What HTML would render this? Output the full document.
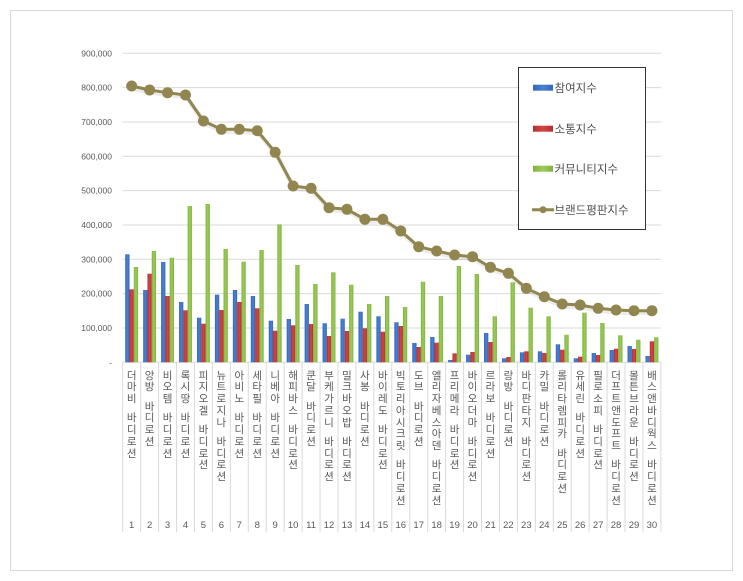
<!DOCTYPE html>
<html><head><meta charset="utf-8">
<style>
html,body{margin:0;padding:0;background:#fff;}
body{width:743px;height:581px;position:relative;overflow:hidden;font-family:"Liberation Sans","Noto Sans CJK KR",sans-serif;}
svg{position:absolute;left:0;top:0;}
.lb{position:absolute;top:370.6px;width:18px;text-align:center;font-size:10.5px;line-height:11.75px;color:#595959;font-family:"Liberation Sans","Noto Sans CJK KR",sans-serif;}
.lb b{display:block;height:7.5px;}
</style></head><body>
<svg width="743" height="581" viewBox="0 0 743 581" xmlns="http://www.w3.org/2000/svg">
<rect x="10.5" y="10.5" width="722" height="560" fill="#fff" stroke="#d9d9d9" stroke-width="1"/>
<g stroke="#d9d9d9" stroke-width="1">
<line x1="122.7" y1="53.3" x2="660.9" y2="53.3"/>
<line x1="122.7" y1="87.6" x2="660.9" y2="87.6"/>
<line x1="122.7" y1="122" x2="660.9" y2="122"/>
<line x1="122.7" y1="156.3" x2="660.9" y2="156.3"/>
<line x1="122.7" y1="190.6" x2="660.9" y2="190.6"/>
<line x1="122.7" y1="225" x2="660.9" y2="225"/>
<line x1="122.7" y1="259.3" x2="660.9" y2="259.3"/>
<line x1="122.7" y1="293.6" x2="660.9" y2="293.6"/>
<line x1="122.7" y1="328" x2="660.9" y2="328"/>
<line x1="122.7" y1="362.3" x2="660.9" y2="362.3"/>
</g>
<g stroke="#d9d9d9" stroke-width="1">
<line x1="122.7" y1="362" x2="122.7" y2="532"/>
<line x1="140.64" y1="362" x2="140.64" y2="532"/>
<line x1="158.58" y1="362" x2="158.58" y2="532"/>
<line x1="176.52" y1="362" x2="176.52" y2="532"/>
<line x1="194.46" y1="362" x2="194.46" y2="532"/>
<line x1="212.4" y1="362" x2="212.4" y2="532"/>
<line x1="230.34" y1="362" x2="230.34" y2="532"/>
<line x1="248.28" y1="362" x2="248.28" y2="532"/>
<line x1="266.22" y1="362" x2="266.22" y2="532"/>
<line x1="284.16" y1="362" x2="284.16" y2="532"/>
<line x1="302.1" y1="362" x2="302.1" y2="532"/>
<line x1="320.04" y1="362" x2="320.04" y2="532"/>
<line x1="337.98" y1="362" x2="337.98" y2="532"/>
<line x1="355.92" y1="362" x2="355.92" y2="532"/>
<line x1="373.86" y1="362" x2="373.86" y2="532"/>
<line x1="391.8" y1="362" x2="391.8" y2="532"/>
<line x1="409.74" y1="362" x2="409.74" y2="532"/>
<line x1="427.68" y1="362" x2="427.68" y2="532"/>
<line x1="445.62" y1="362" x2="445.62" y2="532"/>
<line x1="463.56" y1="362" x2="463.56" y2="532"/>
<line x1="481.5" y1="362" x2="481.5" y2="532"/>
<line x1="499.44" y1="362" x2="499.44" y2="532"/>
<line x1="517.38" y1="362" x2="517.38" y2="532"/>
<line x1="535.32" y1="362" x2="535.32" y2="532"/>
<line x1="553.26" y1="362" x2="553.26" y2="532"/>
<line x1="571.2" y1="362" x2="571.2" y2="532"/>
<line x1="589.14" y1="362" x2="589.14" y2="532"/>
<line x1="607.08" y1="362" x2="607.08" y2="532"/>
<line x1="625.02" y1="362" x2="625.02" y2="532"/>
<line x1="642.96" y1="362" x2="642.96" y2="532"/>
<line x1="660.9" y1="362" x2="660.9" y2="532"/>
</g>
<g font-family="Liberation Sans, sans-serif" font-size="8.5" fill="#595959" text-anchor="end">
<text x="112" y="56.3">900,000</text>
<text x="112" y="90.6">800,000</text>
<text x="112" y="125">700,000</text>
<text x="112" y="159.3">600,000</text>
<text x="112" y="193.6">500,000</text>
<text x="112" y="228">400,000</text>
<text x="112" y="262.3">300,000</text>
<text x="112" y="296.6">200,000</text>
<text x="112" y="331">100,000</text>
<text x="112" y="365.3">-</text>
</g>
<defs>
<linearGradient id="gb" x1="0" x2="1" y1="0" y2="0"><stop offset="0" stop-color="#3467b8"/><stop offset="0.5" stop-color="#4a80d2"/><stop offset="1" stop-color="#3467b8"/></linearGradient>
<linearGradient id="gr" x1="0" x2="1" y1="0" y2="0"><stop offset="0" stop-color="#b52e2e"/><stop offset="0.5" stop-color="#d24646"/><stop offset="1" stop-color="#b52e2e"/></linearGradient>
<linearGradient id="gg" x1="0" x2="1" y1="0" y2="0"><stop offset="0" stop-color="#7fb23c"/><stop offset="0.5" stop-color="#9ccb5a"/><stop offset="1" stop-color="#7fb23c"/></linearGradient>
</defs>
<g id="bars">
<g transform="translate(122.7,0)"><rect x="2.52" y="254.3" width="4.3" height="108" fill="url(#gb)"/><rect x="6.82" y="289.3" width="4.3" height="73" fill="url(#gr)"/><rect x="11.12" y="267" width="4.3" height="95.3" fill="url(#gg)"/></g>
<g transform="translate(140.64,0)"><rect x="2.52" y="290" width="4.3" height="72.3" fill="url(#gb)"/><rect x="6.82" y="273.7" width="4.3" height="88.6" fill="url(#gr)"/><rect x="11.12" y="251" width="4.3" height="111.3" fill="url(#gg)"/></g>
<g transform="translate(158.58,0)"><rect x="2.52" y="262" width="4.3" height="100.3" fill="url(#gb)"/><rect x="6.82" y="296" width="4.3" height="66.3" fill="url(#gr)"/><rect x="11.12" y="257.7" width="4.3" height="104.6" fill="url(#gg)"/></g>
<g transform="translate(176.52,0)"><rect x="2.52" y="302" width="4.3" height="60.3" fill="url(#gb)"/><rect x="6.82" y="310.3" width="4.3" height="52" fill="url(#gr)"/><rect x="11.12" y="206" width="4.3" height="156.3" fill="url(#gg)"/></g>
<g transform="translate(194.46,0)"><rect x="2.52" y="317.7" width="4.3" height="44.6" fill="url(#gb)"/><rect x="6.82" y="323.7" width="4.3" height="38.6" fill="url(#gr)"/><rect x="11.12" y="204" width="4.3" height="158.3" fill="url(#gg)"/></g>
<g transform="translate(212.4,0)"><rect x="2.52" y="294.7" width="4.3" height="67.6" fill="url(#gb)"/><rect x="6.82" y="310" width="4.3" height="52.3" fill="url(#gr)"/><rect x="11.12" y="249" width="4.3" height="113.3" fill="url(#gg)"/></g>
<g transform="translate(230.34,0)"><rect x="2.52" y="290" width="4.3" height="72.3" fill="url(#gb)"/><rect x="6.82" y="302" width="4.3" height="60.3" fill="url(#gr)"/><rect x="11.12" y="261.7" width="4.3" height="100.6" fill="url(#gg)"/></g>
<g transform="translate(248.28,0)"><rect x="2.52" y="296" width="4.3" height="66.3" fill="url(#gb)"/><rect x="6.82" y="308.3" width="4.3" height="54" fill="url(#gr)"/><rect x="11.12" y="250" width="4.3" height="112.3" fill="url(#gg)"/></g>
<g transform="translate(266.22,0)"><rect x="2.52" y="320.7" width="4.3" height="41.6" fill="url(#gb)"/><rect x="6.82" y="330.7" width="4.3" height="31.6" fill="url(#gr)"/><rect x="11.12" y="224.3" width="4.3" height="138" fill="url(#gg)"/></g>
<g transform="translate(284.16,0)"><rect x="2.52" y="319" width="4.3" height="43.3" fill="url(#gb)"/><rect x="6.82" y="325.3" width="4.3" height="37" fill="url(#gr)"/><rect x="11.12" y="265" width="4.3" height="97.3" fill="url(#gg)"/></g>
<g transform="translate(302.1,0)"><rect x="2.52" y="304" width="4.3" height="58.3" fill="url(#gb)"/><rect x="6.82" y="324" width="4.3" height="38.3" fill="url(#gr)"/><rect x="11.12" y="284" width="4.3" height="78.3" fill="url(#gg)"/></g>
<g transform="translate(320.04,0)"><rect x="2.52" y="323.3" width="4.3" height="39" fill="url(#gb)"/><rect x="6.82" y="336" width="4.3" height="26.3" fill="url(#gr)"/><rect x="11.12" y="272.3" width="4.3" height="90" fill="url(#gg)"/></g>
<g transform="translate(337.98,0)"><rect x="2.52" y="318.7" width="4.3" height="43.6" fill="url(#gb)"/><rect x="6.82" y="331" width="4.3" height="31.3" fill="url(#gr)"/><rect x="11.12" y="284.7" width="4.3" height="77.6" fill="url(#gg)"/></g>
<g transform="translate(355.92,0)"><rect x="2.52" y="311.7" width="4.3" height="50.6" fill="url(#gb)"/><rect x="6.82" y="328.3" width="4.3" height="34" fill="url(#gr)"/><rect x="11.12" y="304" width="4.3" height="58.3" fill="url(#gg)"/></g>
<g transform="translate(373.86,0)"><rect x="2.52" y="316.3" width="4.3" height="46" fill="url(#gb)"/><rect x="6.82" y="331.7" width="4.3" height="30.6" fill="url(#gr)"/><rect x="11.12" y="296" width="4.3" height="66.3" fill="url(#gg)"/></g>
<g transform="translate(391.8,0)"><rect x="2.52" y="322.3" width="4.3" height="40" fill="url(#gb)"/><rect x="6.82" y="326" width="4.3" height="36.3" fill="url(#gr)"/><rect x="11.12" y="307" width="4.3" height="55.3" fill="url(#gg)"/></g>
<g transform="translate(409.74,0)"><rect x="2.52" y="343" width="4.3" height="19.3" fill="url(#gb)"/><rect x="6.82" y="347" width="4.3" height="15.3" fill="url(#gr)"/><rect x="11.12" y="281.7" width="4.3" height="80.6" fill="url(#gg)"/></g>
<g transform="translate(427.68,0)"><rect x="2.52" y="337" width="4.3" height="25.3" fill="url(#gb)"/><rect x="6.82" y="342.7" width="4.3" height="19.6" fill="url(#gr)"/><rect x="11.12" y="296" width="4.3" height="66.3" fill="url(#gg)"/></g>
<g transform="translate(445.62,0)"><rect x="2.52" y="360" width="4.3" height="2.3" fill="url(#gb)"/><rect x="6.82" y="353.3" width="4.3" height="9" fill="url(#gr)"/><rect x="11.12" y="266" width="4.3" height="96.3" fill="url(#gg)"/></g>
<g transform="translate(463.56,0)"><rect x="2.52" y="354.7" width="4.3" height="7.6" fill="url(#gb)"/><rect x="6.82" y="352" width="4.3" height="10.3" fill="url(#gr)"/><rect x="11.12" y="274" width="4.3" height="88.3" fill="url(#gg)"/></g>
<g transform="translate(481.5,0)"><rect x="2.52" y="333" width="4.3" height="29.3" fill="url(#gb)"/><rect x="6.82" y="342" width="4.3" height="20.3" fill="url(#gr)"/><rect x="11.12" y="316.3" width="4.3" height="46" fill="url(#gg)"/></g>
<g transform="translate(499.44,0)"><rect x="2.52" y="358.3" width="4.3" height="4" fill="url(#gb)"/><rect x="6.82" y="357" width="4.3" height="5.3" fill="url(#gr)"/><rect x="11.12" y="282.3" width="4.3" height="80" fill="url(#gg)"/></g>
<g transform="translate(517.38,0)"><rect x="2.52" y="352.3" width="4.3" height="10" fill="url(#gb)"/><rect x="6.82" y="351.3" width="4.3" height="11" fill="url(#gr)"/><rect x="11.12" y="307.7" width="4.3" height="54.6" fill="url(#gg)"/></g>
<g transform="translate(535.32,0)"><rect x="2.52" y="351.3" width="4.3" height="11" fill="url(#gb)"/><rect x="6.82" y="353" width="4.3" height="9.3" fill="url(#gr)"/><rect x="11.12" y="316.3" width="4.3" height="46" fill="url(#gg)"/></g>
<g transform="translate(553.26,0)"><rect x="2.52" y="344.3" width="4.3" height="18" fill="url(#gb)"/><rect x="6.82" y="349.7" width="4.3" height="12.6" fill="url(#gr)"/><rect x="11.12" y="334.7" width="4.3" height="27.6" fill="url(#gg)"/></g>
<g transform="translate(571.2,0)"><rect x="2.52" y="358.3" width="4.3" height="4" fill="url(#gb)"/><rect x="6.82" y="356.7" width="4.3" height="5.6" fill="url(#gr)"/><rect x="11.12" y="312.7" width="4.3" height="49.6" fill="url(#gg)"/></g>
<g transform="translate(589.14,0)"><rect x="2.52" y="353" width="4.3" height="9.3" fill="url(#gb)"/><rect x="6.82" y="355" width="4.3" height="7.3" fill="url(#gr)"/><rect x="11.12" y="323" width="4.3" height="39.3" fill="url(#gg)"/></g>
<g transform="translate(607.08,0)"><rect x="2.52" y="350" width="4.3" height="12.3" fill="url(#gb)"/><rect x="6.82" y="348.7" width="4.3" height="13.6" fill="url(#gr)"/><rect x="11.12" y="335.3" width="4.3" height="27" fill="url(#gg)"/></g>
<g transform="translate(625.02,0)"><rect x="2.52" y="346" width="4.3" height="16.3" fill="url(#gb)"/><rect x="6.82" y="349" width="4.3" height="13.3" fill="url(#gr)"/><rect x="11.12" y="339.7" width="4.3" height="22.6" fill="url(#gg)"/></g>
<g transform="translate(642.96,0)"><rect x="2.52" y="356" width="4.3" height="6.3" fill="url(#gb)"/><rect x="6.82" y="341.3" width="4.3" height="21" fill="url(#gr)"/><rect x="11.12" y="337.3" width="4.3" height="25" fill="url(#gg)"/></g>
</g>
<polyline fill="none" stroke="#000" stroke-opacity="0.08" stroke-width="5" stroke-linejoin="round" transform="translate(1,2)" points="131.67,86 149.61,90 167.55,92.7 185.49,95 203.43,121 221.37,129.3 239.31,129.3 257.25,130.7 275.19,152.3 293.13,186 311.07,188.3 329.01,207.7 346.95,209.3 364.89,219.3 382.83,219.3 400.77,231 418.71,246.7 436.65,251 454.59,255 472.53,256.7 490.47,267.3 508.41,273.3 526.35,288.3 544.29,296.7 562.23,304 580.17,305 598.11,308.3 616.05,310 633.99,310.7 651.93,310.7"/>
<polyline fill="none" stroke="#928650" stroke-width="3" stroke-linejoin="round" points="131.67,86 149.61,90 167.55,92.7 185.49,95 203.43,121 221.37,129.3 239.31,129.3 257.25,130.7 275.19,152.3 293.13,186 311.07,188.3 329.01,207.7 346.95,209.3 364.89,219.3 382.83,219.3 400.77,231 418.71,246.7 436.65,251 454.59,255 472.53,256.7 490.47,267.3 508.41,273.3 526.35,288.3 544.29,296.7 562.23,304 580.17,305 598.11,308.3 616.05,310 633.99,310.7 651.93,310.7"/>
<g fill="#928650">
<circle cx="131.67" cy="86" r="5.5"/><circle cx="149.61" cy="90" r="5.5"/><circle cx="167.55" cy="92.7" r="5.5"/><circle cx="185.49" cy="95" r="5.5"/><circle cx="203.43" cy="121" r="5.5"/><circle cx="221.37" cy="129.3" r="5.5"/><circle cx="239.31" cy="129.3" r="5.5"/><circle cx="257.25" cy="130.7" r="5.5"/><circle cx="275.19" cy="152.3" r="5.5"/><circle cx="293.13" cy="186" r="5.5"/><circle cx="311.07" cy="188.3" r="5.5"/><circle cx="329.01" cy="207.7" r="5.5"/><circle cx="346.95" cy="209.3" r="5.5"/><circle cx="364.89" cy="219.3" r="5.5"/><circle cx="382.83" cy="219.3" r="5.5"/><circle cx="400.77" cy="231" r="5.5"/><circle cx="418.71" cy="246.7" r="5.5"/><circle cx="436.65" cy="251" r="5.5"/><circle cx="454.59" cy="255" r="5.5"/><circle cx="472.53" cy="256.7" r="5.5"/><circle cx="490.47" cy="267.3" r="5.5"/><circle cx="508.41" cy="273.3" r="5.5"/><circle cx="526.35" cy="288.3" r="5.5"/><circle cx="544.29" cy="296.7" r="5.5"/><circle cx="562.23" cy="304" r="5.5"/><circle cx="580.17" cy="305" r="5.5"/><circle cx="598.11" cy="308.3" r="5.5"/><circle cx="616.05" cy="310" r="5.5"/><circle cx="633.99" cy="310.7" r="5.5"/><circle cx="651.93" cy="310.7" r="5.5"/>
</g>
<g font-family="Liberation Sans, sans-serif" font-size="9.5" fill="#595959" text-anchor="middle">
<text x="131.67" y="528">1</text><text x="149.61" y="528">2</text><text x="167.55" y="528">3</text><text x="185.49" y="528">4</text><text x="203.43" y="528">5</text><text x="221.37" y="528">6</text><text x="239.31" y="528">7</text><text x="257.25" y="528">8</text><text x="275.19" y="528">9</text><text x="293.13" y="528">10</text><text x="311.07" y="528">11</text><text x="329.01" y="528">12</text><text x="346.95" y="528">13</text><text x="364.89" y="528">14</text><text x="382.83" y="528">15</text><text x="400.77" y="528">16</text><text x="418.71" y="528">17</text><text x="436.65" y="528">18</text><text x="454.59" y="528">19</text><text x="472.53" y="528">20</text><text x="490.47" y="528">21</text><text x="508.41" y="528">22</text><text x="526.35" y="528">23</text><text x="544.29" y="528">24</text><text x="562.23" y="528">25</text><text x="580.17" y="528">26</text><text x="598.11" y="528">27</text><text x="616.05" y="528">28</text><text x="633.99" y="528">29</text><text x="651.93" y="528">30</text>
</g>
<rect x="518.5" y="67.5" width="127" height="162" fill="#fff" stroke="#333" stroke-width="1"/>
<rect x="533" y="84.7" width="20" height="6" fill="url(#gb)"/>
<rect x="533" y="125.7" width="20" height="6" fill="url(#gr)"/>
<rect x="533" y="165.7" width="20" height="6" fill="url(#gg)"/>
<line x1="532" y1="209.7" x2="554" y2="209.7" stroke="#928650" stroke-width="3"/>
<circle cx="543" cy="209.7" r="3.5" fill="#928650"/>
<g font-family="Liberation Sans, Noto Sans CJK KR, sans-serif" font-size="11.5" fill="#505050">
<text x="554.5" y="91.8">참여지수</text>
<text x="554.5" y="132.8">소통지수</text>
<text x="554.5" y="172.8">커뮤니티지수</text>
<text x="554.5" y="213.8">브랜드평판지수</text>
</g>
</svg>
<div class="lb" style="left:122.67px">더<br>마<br>비<b></b>바<br>디<br>로<br>션</div>
<div class="lb" style="left:140.61px">앙<br>방<b></b>바<br>디<br>로<br>션</div>
<div class="lb" style="left:158.55px">비<br>오<br>템<b></b>바<br>디<br>로<br>션</div>
<div class="lb" style="left:176.49px">록<br>시<br>땅<b></b>바<br>디<br>로<br>션</div>
<div class="lb" style="left:194.43px">피<br>지<br>오<br>겔<b></b>바<br>디<br>로<br>션</div>
<div class="lb" style="left:212.37px">뉴<br>트<br>로<br>지<br>나<b></b>바<br>디<br>로<br>션</div>
<div class="lb" style="left:230.31px">아<br>비<br>노<b></b>바<br>디<br>로<br>션</div>
<div class="lb" style="left:248.25px">세<br>타<br>필<b></b>바<br>디<br>로<br>션</div>
<div class="lb" style="left:266.19px">니<br>베<br>아<b></b>바<br>디<br>로<br>션</div>
<div class="lb" style="left:284.13px">해<br>피<br>바<br>스<b></b>바<br>디<br>로<br>션</div>
<div class="lb" style="left:302.07px">쿤<br>달<b></b>바<br>디<br>로<br>션</div>
<div class="lb" style="left:320.01px">부<br>케<br>가<br>르<br>니<b></b>바<br>디<br>로<br>션</div>
<div class="lb" style="left:337.95px">밀<br>크<br>바<br>오<br>밥<b></b>바<br>디<br>로<br>션</div>
<div class="lb" style="left:355.89px">사<br>봉<b></b>바<br>디<br>로<br>션</div>
<div class="lb" style="left:373.83px">바<br>이<br>레<br>도<b></b>바<br>디<br>로<br>션</div>
<div class="lb" style="left:391.77px">빅<br>토<br>리<br>아<br>시<br>크<br>릿<b></b>바<br>디<br>로<br>션</div>
<div class="lb" style="left:409.71px">도<br>브<b></b>바<br>디<br>로<br>션</div>
<div class="lb" style="left:427.65px">엘<br>리<br>자<br>베<br>스<br>아<br>덴<b></b>바<br>디<br>로<br>션</div>
<div class="lb" style="left:445.59px">프<br>리<br>메<br>라<b></b>바<br>디<br>로<br>션</div>
<div class="lb" style="left:463.53px">바<br>이<br>오<br>더<br>마<b></b>바<br>디<br>로<br>션</div>
<div class="lb" style="left:481.47px">르<br>라<br>보<b></b>바<br>디<br>로<br>션</div>
<div class="lb" style="left:499.41px">랑<br>방<b></b>바<br>디<br>로<br>션</div>
<div class="lb" style="left:517.35px">바<br>디<br>판<br>타<br>지<b></b>바<br>디<br>로<br>션</div>
<div class="lb" style="left:535.29px">카<br>밀<b></b>바<br>디<br>로<br>션</div>
<div class="lb" style="left:553.23px">롤<br>리<br>타<br>렘<br>피<br>카<b></b>바<br>디<br>로<br>션</div>
<div class="lb" style="left:571.17px">유<br>세<br>린<b></b>바<br>디<br>로<br>션</div>
<div class="lb" style="left:589.11px">필<br>로<br>소<br>피<b></b>바<br>디<br>로<br>션</div>
<div class="lb" style="left:607.05px">더<br>프<br>트<br>앤<br>도<br>프<br>트<b></b>바<br>디<br>로<br>션</div>
<div class="lb" style="left:624.99px">몰<br>튼<br>브<br>라<br>운<b></b>바<br>디<br>로<br>션</div>
<div class="lb" style="left:642.93px">배<br>스<br>앤<br>바<br>디<br>웍<br>스<b></b>바<br>디<br>로<br>션</div>
</body></html>
